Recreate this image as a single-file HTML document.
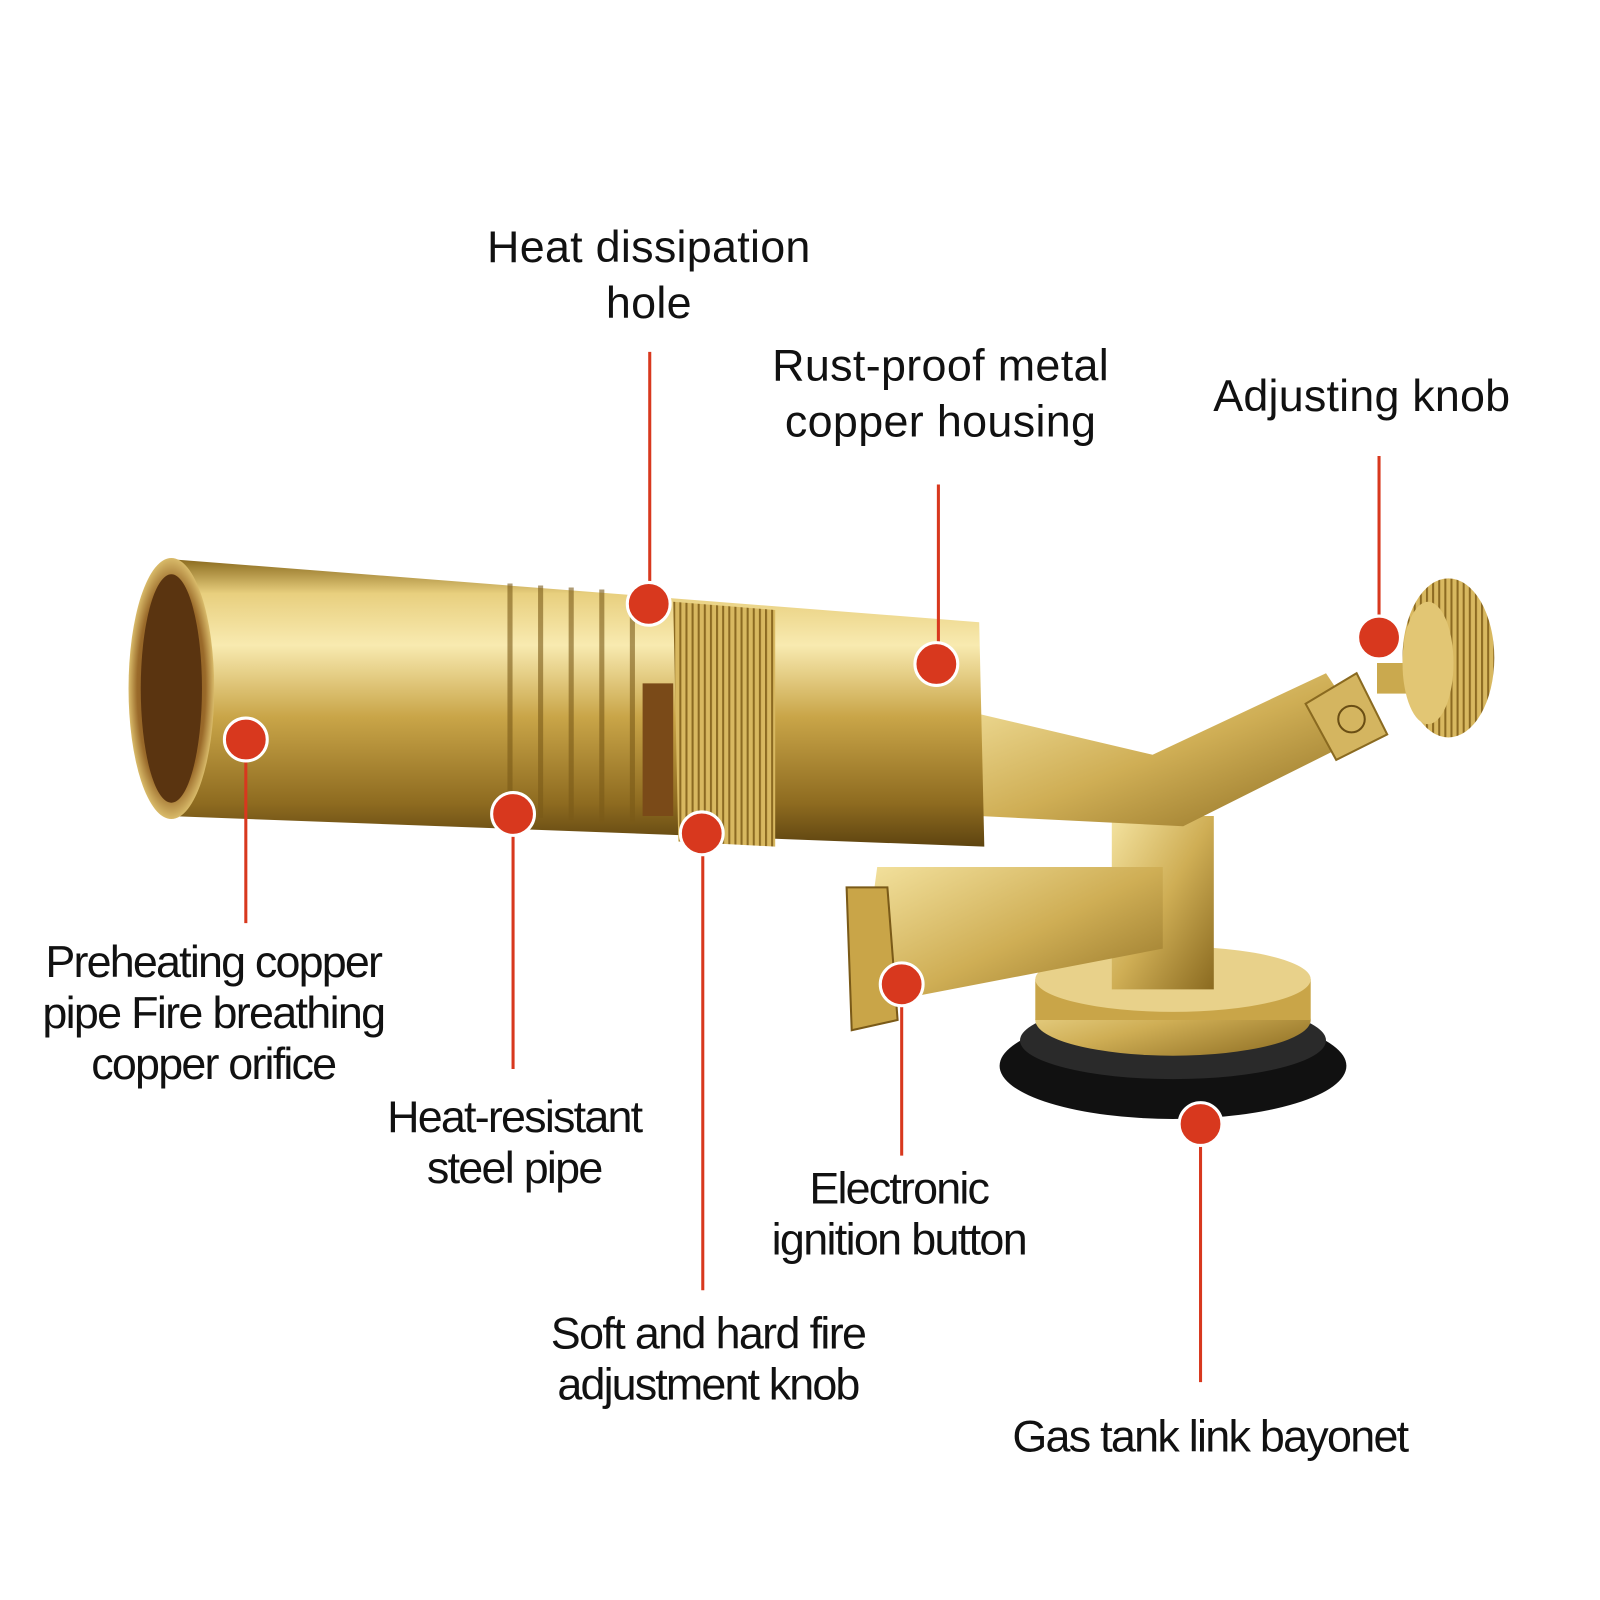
<!DOCTYPE html>
<html><head><meta charset="utf-8"><style>
html,body{margin:0;padding:0;background:#fff;}
svg{display:block}
text{font-family:"Liberation Sans",Arial,sans-serif;font-size:44px;fill:#111;text-anchor:middle}
</style></head><body>
<svg width="1600" height="1600" viewBox="0 0 1600 1600" xmlns="http://www.w3.org/2000/svg">
<defs>
<linearGradient id="tube" x1="0" y1="0" x2="0" y2="1">
<stop offset="0" stop-color="#8a6a1e"/><stop offset="0.12" stop-color="#e8cf7e"/><stop offset="0.3" stop-color="#f8eab0"/><stop offset="0.55" stop-color="#c9a548"/><stop offset="0.85" stop-color="#8e6b20"/><stop offset="1" stop-color="#5e4410"/>
</linearGradient>
<linearGradient id="body" x1="0" y1="0" x2="1" y2="1">
<stop offset="0" stop-color="#f4e3a0"/><stop offset="0.5" stop-color="#cfae55"/><stop offset="1" stop-color="#8a6a20"/>
</linearGradient>
<radialGradient id="hole" cx="0.5" cy="0.5" r="0.5">
<stop offset="0" stop-color="#6a3d10"/><stop offset="0.8" stop-color="#9a6a2a"/><stop offset="1" stop-color="#d9bb6a"/>
</radialGradient>
<pattern id="knurl" width="6" height="10" patternUnits="userSpaceOnUse">
<rect width="6" height="10" fill="#d8b860"/><rect width="2" height="10" fill="#8c6a22"/>
</pattern>
</defs>
<g transform="scale(1.02)">
<ellipse cx="1150" cy="1045" rx="170" ry="52" fill="#111"/>
<ellipse cx="1150" cy="1020" rx="150" ry="38" fill="#2a2a2a"/>
<ellipse cx="1150" cy="1000" rx="135" ry="35" fill="url(#body)"/>
<rect x="1015" y="960" width="270" height="40" fill="#c9a548"/>
<ellipse cx="1150" cy="960" rx="135" ry="32" fill="#e8d18a"/>
<path d="M1090 800 L1190 800 L1190 970 L1090 970 Z" fill="url(#body)"/>
<path d="M960 700 L1130 740 L1300 660 L1340 720 L1160 810 L960 800 Z" fill="url(#body)"/>
<path d="M1280 690 L1330 660 L1360 720 L1310 745 Z" fill="#d4b560" stroke="#8a6a20" stroke-width="2"/>
<circle cx="1325" cy="705" r="13" fill="none" stroke="#6a4e14" stroke-width="2"/>
<path d="M860 850 L1140 850 L1140 930 L880 980 L840 1000 Z" fill="url(#body)"/>
<path d="M830 870 L870 870 L880 1000 L835 1010 Z" fill="#c9a548" stroke="#7a5a18" stroke-width="2"/>
<rect x="1350" y="650" width="40" height="30" fill="#caa94e"/>
<ellipse cx="1420" cy="645" rx="45" ry="78" fill="url(#knurl)"/>
<ellipse cx="1400" cy="650" rx="25" ry="60" fill="#e2c674"/>
<path d="M165 548 L960 610 L965 830 L165 800 Z" fill="url(#tube)"/>
<g stroke="#7a5a18" stroke-width="5" opacity="0.6">
<line x1="500" y1="572" x2="500" y2="800"/><line x1="530" y1="574" x2="530" y2="802"/>
<line x1="560" y1="576" x2="560" y2="804"/><line x1="590" y1="578" x2="590" y2="806"/>
<line x1="620" y1="580" x2="620" y2="808"/></g>
<path d="M660 590 L760 598 L760 830 L665 825 Z" fill="url(#knurl)"/>
<path d="M630 670 L660 670 L660 800 L630 800 Z" fill="#7a4a18"/>
<ellipse cx="168" cy="675" rx="42" ry="128" fill="url(#hole)"/>
<ellipse cx="168" cy="675" rx="30" ry="112" fill="#5a3410"/>

<g stroke="#d8381e" stroke-width="3">
<line x1="637" y1="345" x2="637" y2="590"/>
<line x1="920" y1="475" x2="920" y2="650"/>
<line x1="1352" y1="447" x2="1352" y2="625"/>
<line x1="241" y1="725" x2="241" y2="905"/>
<line x1="503" y1="798" x2="503" y2="1048"/>
<line x1="689" y1="817" x2="689" y2="1265"/>
<line x1="884" y1="965" x2="884" y2="1133"/>
<line x1="1177" y1="1102" x2="1177" y2="1355"/>
</g>
<g fill="#d8381e" stroke="#fff" stroke-width="3">
<circle cx="636" cy="592" r="21"/><circle cx="918" cy="651" r="21"/>
<circle cx="1352" cy="625" r="21"/><circle cx="241" cy="725" r="21"/>
<circle cx="503" cy="798" r="21"/><circle cx="688" cy="817" r="21"/>
<circle cx="884" cy="965" r="21"/><circle cx="1177" cy="1102" r="21"/>
</g>
<g lengthAdjust="spacingAndGlyphs">
<text x="636" y="257" textLength="317">Heat dissipation</text><text x="636" y="312" textLength="84">hole</text>
<text x="922" y="373" textLength="330">Rust-proof metal</text><text x="922" y="428" textLength="305">copper housing</text>
<text x="1335" y="403" textLength="291">Adjusting knob</text>
<text x="210" y="958" textLength="331">Preheating copper</text><text x="210" y="1008" textLength="337">pipe Fire breathing</text><text x="210" y="1058" textLength="241">copper orifice</text>
<text x="505" y="1110" textLength="251">Heat-resistant</text><text x="505" y="1160" textLength="173">steel pipe</text>
<text x="882" y="1180" textLength="177">Electronic</text><text x="882" y="1230" textLength="251">ignition button</text>
<text x="695" y="1322" textLength="310">Soft and hard fire</text><text x="695" y="1372" textLength="297">adjustment knob</text>
<text x="1187" y="1423" textLength="389">Gas tank link bayonet</text>
</g>
</g>
</svg>
</body></html>
